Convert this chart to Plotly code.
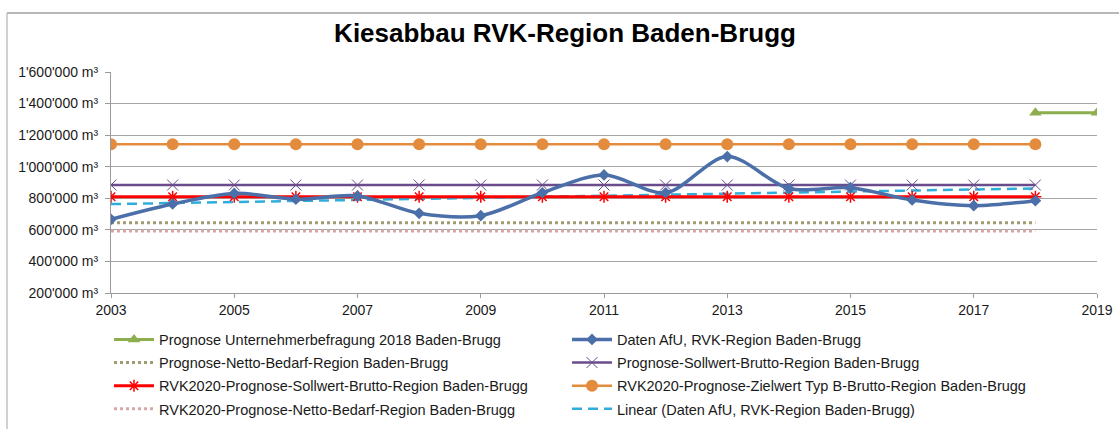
import numpy as np
import plotly.graph_objects as go

# ---------------- data ----------------
years = [2003, 2004, 2005, 2006, 2007, 2008, 2009, 2010,
         2011, 2012, 2013, 2014, 2015, 2016, 2017, 2018]
daten_afu = [667000, 764000, 831000, 794000, 815000, 705000, 690000, 835000,
             948000, 835000, 1064000, 862000, 867000, 789000, 753000, 785000]
unternehmer_years = [2018, 2019]
prognose_unternehmer = [1342000, 1342000]
prognose_netto = [645000, 645000, 645000, 645000, 645000, 645000, 645000, 645000,
                  645000, 645000, 645000, 645000, 645000, 645000, 645000, 645000]
prognose_sollwert = [884000, 884000, 884000, 884000, 884000, 884000, 884000, 884000,
                     884000, 884000, 884000, 884000, 884000, 884000, 884000, 884000]
rvk_sollwert = [810000, 810000, 810000, 810000, 810000, 810000, 810000, 810000,
                810000, 810000, 810000, 810000, 810000, 810000, 810000, 810000]
rvk_zielwert = [1142000, 1142000, 1142000, 1142000, 1142000, 1142000, 1142000, 1142000,
                1142000, 1142000, 1142000, 1142000, 1142000, 1142000, 1142000, 1142000]
rvk_netto = [593000, 593000, 593000, 593000, 593000, 593000, 593000, 593000,
             593000, 593000, 593000, 593000, 593000, 593000, 593000, 593000]

y_ticks = [200000, 400000, 600000, 800000, 1000000, 1200000, 1400000, 1600000]
y_ticktext = ["200'000 m³", "400'000 m³", "600'000 m³", "800'000 m³",
              "1'000'000 m³", "1'200'000 m³", "1'400'000 m³", "1'600'000 m³"]
x_ticks = [2003, 2005, 2007, 2009, 2011, 2013, 2015, 2017, 2019]

# linear trendline of Daten AfU (as Excel trendline)
coef = np.polyfit(years, daten_afu, 1)
trend = [float(np.polyval(coef, y)) for y in years]

FONT = "Liberation Sans, Arial, sans-serif"

fig = go.Figure()

def add(x, y, name, legend, rank, **kw):
    fig.add_trace(go.Scatter(x=x, y=y, name=name, legend=legend, legendrank=rank,
                             legendgroup=name, mode=kw.pop("mode", "lines"), **kw))

add(years, rvk_netto, "RVK2020-Prognose-Netto-Bedarf-Region Baden-Brugg", "legend", 4,
    line=dict(color="#D8A8A8", width=3, dash="dot"))
add(years, prognose_netto, "Prognose-Netto-Bedarf-Region Baden-Brugg", "legend", 2,
    line=dict(color="#A09C72", width=3, dash="dot"))
add(years, trend, "Linear (Daten AfU, RVK-Region Baden-Brugg)", "legend2", 4,
    line=dict(color="#30AEDB", width=2.5, dash="10px,6px"))
add(years, prognose_sollwert, "Prognose-Sollwert-Brutto-Region Baden-Brugg", "legend2", 2,
    mode="lines+markers", line=dict(color="#6A4C8C", width=2.5),
    marker=dict(symbol="x-thin-open", size=11, line=dict(color="#6A4C8C", width=1)))
add(years, rvk_sollwert, "RVK2020-Prognose-Sollwert-Brutto-Region Baden-Brugg", "legend", 3,
    mode="lines+markers", line=dict(color="#FF0000", width=3),
    marker=dict(symbol="asterisk-open", size=10, line=dict(color="#FF0000", width=1.5)))
add(years, rvk_zielwert, "RVK2020-Prognose-Zielwert Typ B-Brutto-Region Baden-Brugg", "legend2", 3,
    mode="lines+markers", line=dict(color="#E38C3E", width=2.5),
    marker=dict(symbol="circle", size=12, color="#E38C3E"))
add(years, daten_afu, "Daten AfU, RVK-Region Baden-Brugg", "legend2", 1,
    mode="lines+markers", line=dict(color="#4B6FA8", width=3.5, shape="spline", smoothing=0.9),
    marker=dict(symbol="diamond", size=9, color="#4B6FA8"))
add(unternehmer_years, prognose_unternehmer, "Prognose Unternehmerbefragung 2018 Baden-Brugg", "legend", 1,
    mode="lines+markers", line=dict(color="#8DAE4E", width=3),
    marker=dict(symbol="triangle-up", size=11, color="#8DAE4E"))

legend_common = dict(xanchor="left", yanchor="top", orientation="v",
                     font=dict(size=14.5, family=FONT, color="#1a1a1a"),
                     traceorder="grouped", tracegroupgap=1.3,
                     bgcolor="rgba(0,0,0,0)", itemwidth=40)

fig.update_layout(
    width=1119, height=429,
    margin=dict(l=111, r=22, t=72, b=136, autoexpand=False),
    paper_bgcolor="white", plot_bgcolor="white",
    font=dict(family=FONT, size=14, color="#1a1a1a"),
    title=dict(text="<b>Kiesabbau RVK-Region Baden-Brugg</b>",
               x=565 / 1119, xanchor="center", xref="container",
               y=1 - 33 / 429, yanchor="middle", yref="container",
               font=dict(size=26, family=FONT, color="#000000")),
    legend=dict(x=(109 - 111) / 986, y=-0.138, **legend_common),
    legend2=dict(x=(567 - 111) / 986, y=-0.138, **legend_common),
    xaxis=dict(range=[2003, 2019], tickmode="array", tickvals=x_ticks,
               showgrid=False, showline=True, linecolor="#9a9a9a", linewidth=1,
               ticks="outside", ticklen=4, tickcolor="#9a9a9a", ticklabelstandoff=0,
               tickfont=dict(size=14, family=FONT, color="#1a1a1a"), zeroline=False),
    yaxis=dict(range=[200000, 1600000], tickmode="array", tickvals=y_ticks,
               ticktext=y_ticktext, showgrid=True, gridcolor="#a6a6a6", gridwidth=1,
               showline=True, linecolor="#9a9a9a", linewidth=1,
               ticks="outside", ticklen=5, tickcolor="#9a9a9a", ticklabelstandoff=4,
               tickfont=dict(size=14, family=FONT, color="#1a1a1a"), zeroline=False),
    shapes=[
        dict(type="line", xref="paper", yref="paper",
             x0=-104 / 986, x1=1.05, y0=(293 - 13) / 221, y1=(293 - 13) / 221,
             line=dict(color="#a0a0a0", width=1.5)),
        dict(type="line", xref="paper", yref="paper",
             x0=-104 / 986, x1=-104 / 986, y0=(293 - 13) / 221, y1=-0.7,
             line=dict(color="#c0c0c0", width=1.5)),
    ],
)

fig.write_html("out.html", config={"displayModeBar": False},
               post_script="document.body.style.margin='0';")
